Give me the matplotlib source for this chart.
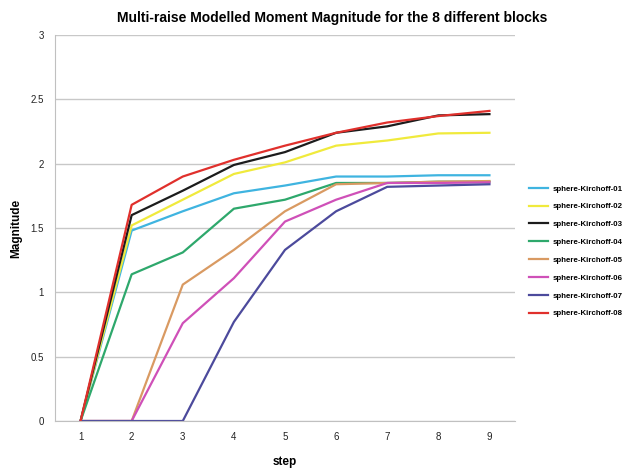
import matplotlib.pyplot as plt

plt.rcParams["font.family"] = ["Liberation Sans", "DejaVu Sans"]

steps = [1, 2, 3, 4, 5, 6, 7, 8, 9]

# modelled moment magnitude per block
k01 = [0, 1.48, 1.63, 1.77, 1.83, 1.90, 1.90, 1.91, 1.91]
k02 = [0, 1.52, 1.72, 1.92, 2.01, 2.14, 2.18, 2.235, 2.24]
k03 = [0, 1.60, 1.79, 1.99, 2.09, 2.24, 2.29, 2.375, 2.385]
k04 = [0, 1.14, 1.31, 1.65, 1.72, 1.85, 1.85, 1.86, 1.86]
k05 = [0, 0, 1.06, 1.33, 1.63, 1.84, 1.85, 1.86, 1.865]
k06 = [0, 0, 0.76, 1.11, 1.55, 1.72, 1.85, 1.85, 1.855]
k07 = [0, 0, 0, 0.77, 1.33, 1.63, 1.82, 1.83, 1.84]
k08 = [0, 1.68, 1.90, 2.03, 2.14, 2.24, 2.32, 2.37, 2.41]

series = [k01, k02, k03, k04, k05, k06, k07, k08]
labels = ["sphere-Kirchoff-0%d" % i for i in range(1, 9)]
colors = ["#3fb4e0", "#f0ea3c", "#1c1c1c", "#2ea86c",
          "#d99a62", "#cf50b8", "#4c4a9c", "#e0302c"]

fig = plt.figure(figsize=(6.35, 4.69), dpi=100)
ax = fig.add_axes([55 / 635, 48 / 469, 460 / 635, 386 / 469])

for vals, lab, col in zip(series, labels, colors):
    ax.plot(steps, vals, color=col, linewidth=1.6, label=lab)

ax.set_xlim(0.5, 9.5)
ax.set_ylim(0, 3)
ax.set_xticks(steps)
ax.set_yticks([0, 0.5, 1, 1.5, 2, 2.5, 3])
ax.set_yticklabels(["0", "0.5", "1", "1.5", "2", "2.5", "3"])
ax.grid(axis="y", color="#c8c8c8", linewidth=1)
ax.set_axisbelow(True)
for s in ["top", "right"]:
    ax.spines[s].set_visible(False)
for s in ["left", "bottom"]:
    ax.spines[s].set_color("#c0c0c0")
ax.tick_params(length=0, labelsize=7, colors="#222222", pad=8)

ax.set_xlabel("step", fontweight="bold", fontsize=8.5, labelpad=10)
ax.set_ylabel("Magnitude", fontweight="bold", fontsize=8.5, labelpad=6)
fig.text(332 / 635, 1 - 18 / 469,
         "Multi-raise Modelled Moment Magnitude for the 8 different blocks",
         fontweight="bold", fontsize=10, ha="center", va="center")

ax.legend(loc="center left", bbox_to_anchor=(1.015, 0.44), frameon=False,
          handlelength=2.4, handletextpad=0.6, labelspacing=1.3,
          prop={"weight": "bold", "size": 5.7})

plt.savefig("out.png", dpi=100)
